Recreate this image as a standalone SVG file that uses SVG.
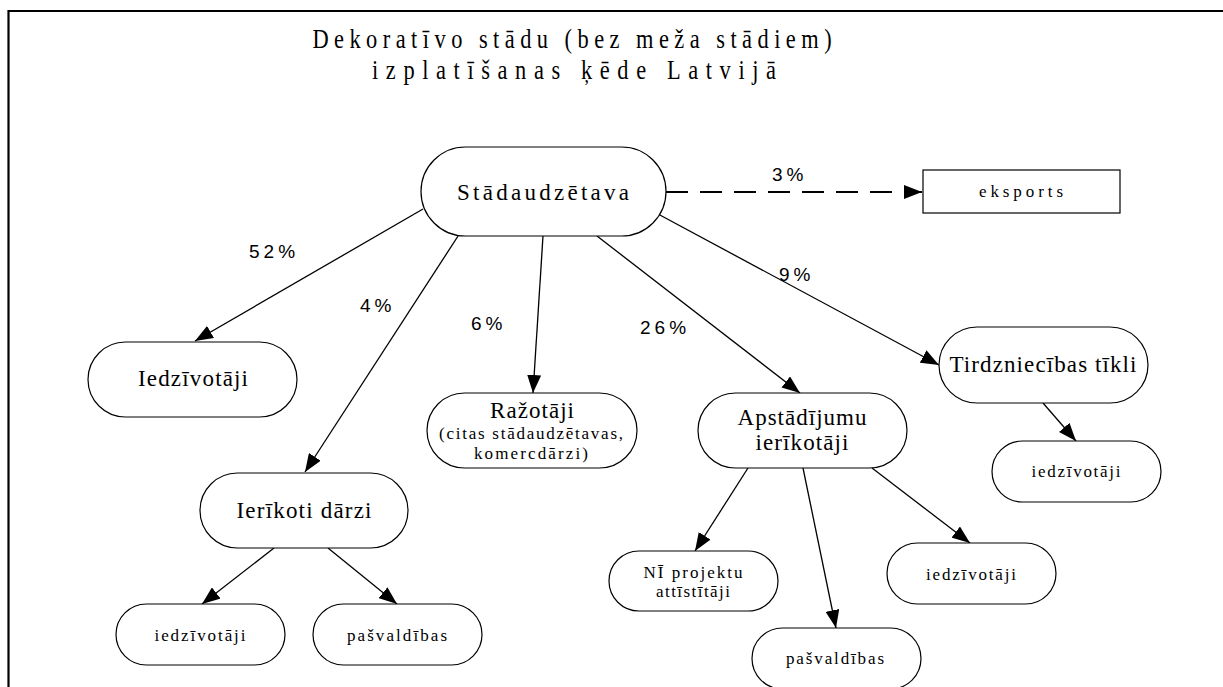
<svg xmlns="http://www.w3.org/2000/svg" width="1223" height="687" viewBox="0 0 1223 687">
<defs>
<marker id="ah" markerUnits="userSpaceOnUse" markerWidth="20" markerHeight="14" refX="18" refY="7" orient="auto">
<path d="M0,0 L18,7 L0,14 Z" fill="#000"/>
</marker>
<style>
.n{fill:#fff;stroke:#000;stroke-width:1.2}
.t{font-family:"Liberation Serif","Times New Roman",serif;fill:#000;text-anchor:middle}
.big{font-size:23px}
.sm{font-size:17px}
.ti{font-size:28px}
.p{font-family:"Liberation Sans",Arial,sans-serif;font-size:19px;letter-spacing:4px;fill:#000}
.e{stroke:#000;stroke-width:1.3;fill:none;marker-end:url(#ah)}
</style>
</defs>
<rect x="0" y="0" width="1223" height="687" fill="#fff"/>
<g id="frame" stroke="#000" stroke-width="2.2">
<line x1="8.5" y1="11" x2="1223" y2="11"/>
<line x1="8.5" y1="10" x2="8.5" y2="687"/>
</g>
<g id="title">
<text class="t ti" transform="translate(572,48) scale(0.8,1)" x="0" y="0" textLength="649">Dekoratīvo stādu (bez meža stādiem)</text>
<text class="t ti" transform="translate(574,79) scale(0.8,1)" x="0" y="0" textLength="505">izplatīšanas ķēde Latvijā</text>
</g>
<g id="connectors">
<line x1="666" y1="192" x2="922" y2="192" stroke="#000" stroke-width="2" stroke-dasharray="22 12" marker-end="url(#ah)"/>
<line class="e" x1="423" y1="209" x2="195" y2="341"/>
<line class="e" x1="460" y1="233" x2="305" y2="472"/>
<line class="e" x1="543" y1="236" x2="533" y2="393"/>
<line class="e" x1="597" y1="236" x2="800" y2="393"/>
<line class="e" x1="658" y1="214" x2="939" y2="365"/>
<line class="e" x1="1043" y1="403" x2="1076" y2="441"/>
<line class="e" x1="274" y1="548" x2="202" y2="604"/>
<line class="e" x1="328" y1="548" x2="397" y2="604"/>
<line class="e" x1="748" y1="468" x2="695" y2="551"/>
<line class="e" x1="803" y1="468" x2="836" y2="628"/>
<line class="e" x1="872" y1="468" x2="970" y2="543"/>
<text class="p" x="772" y="181">3%</text>
<text class="p" x="249" y="258">52%</text>
<text class="p" x="360" y="312">4%</text>
<text class="p" x="471" y="330">6%</text>
<text class="p" x="640" y="334">26%</text>
<text class="p" x="779" y="281">9%</text>
</g>
<g id="stadaudzetava">
<rect class="n" x="421" y="147" width="245" height="89" rx="44.5"/>
<text class="t big" x="543" y="200" textLength="172">Stādaudzētava</text>
</g>
<g id="eksports">
<rect class="n" x="923" y="170" width="197" height="43"/>
<text class="t sm" x="1021" y="197" textLength="84">eksports</text>
</g>
<g id="iedzivotaji1">
<rect class="n" x="88" y="342" width="209" height="75" rx="37.5"/>
<text class="t big" x="193" y="386" textLength="110">Iedzīvotāji</text>
</g>
<g id="razotaji">
<rect class="n" x="427" y="393" width="210" height="75" rx="37.5"/>
<text class="t big" x="532" y="418" textLength="84">Ražotāji</text>
<text class="t sm" x="531" y="439" textLength="184">(citas stādaudzētavas,</text>
<text class="t sm" x="531" y="459" textLength="114">komercdārzi)</text>
</g>
<g id="apstadijumu">
<rect class="n" x="698" y="393" width="209" height="75" rx="37.5"/>
<text class="t big" x="802" y="425" textLength="129">Apstādījumu</text>
<text class="t big" x="802" y="450" textLength="93">ierīkotāji</text>
</g>
<g id="tirdzniecibas">
<rect class="n" x="939" y="327" width="209" height="76" rx="38"/>
<text class="t big" x="1043" y="372" textLength="187">Tirdzniecības tīkli</text>
</g>
<g id="iedzivotaji2">
<rect class="n" x="992" y="441" width="169" height="61" rx="30.5"/>
<text class="t sm" x="1076" y="477" textLength="89">iedzīvotāji</text>
</g>
<g id="ierikoti">
<rect class="n" x="200" y="473" width="208" height="75" rx="37.5"/>
<text class="t big" x="304" y="518" textLength="135">Ierīkoti dārzi</text>
</g>
<g id="iedzivotaji3">
<rect class="n" x="116" y="604" width="169" height="61" rx="30.5"/>
<text class="t sm" x="200" y="641" textLength="91">iedzīvotāji</text>
</g>
<g id="pasvaldibas1">
<rect class="n" x="313" y="604" width="169" height="61" rx="30.5"/>
<text class="t sm" x="397" y="641" textLength="100">pašvaldības</text>
</g>
<g id="ni">
<rect class="n" x="609" y="551" width="169" height="60" rx="30"/>
<text class="t sm" x="693" y="578" textLength="99">NĪ projektu</text>
<text class="t sm" x="693" y="597" textLength="74">attīstītāji</text>
</g>
<g id="pasvaldibas2">
<rect class="n" x="752" y="628" width="169" height="61" rx="30.5"/>
<text class="t sm" x="835" y="664" textLength="98">pašvaldības</text>
</g>
<g id="iedzivotaji4">
<rect class="n" x="887" y="543" width="169" height="61" rx="30.5"/>
<text class="t sm" x="971" y="580" textLength="90">iedzīvotāji</text>
</g>
</svg>
